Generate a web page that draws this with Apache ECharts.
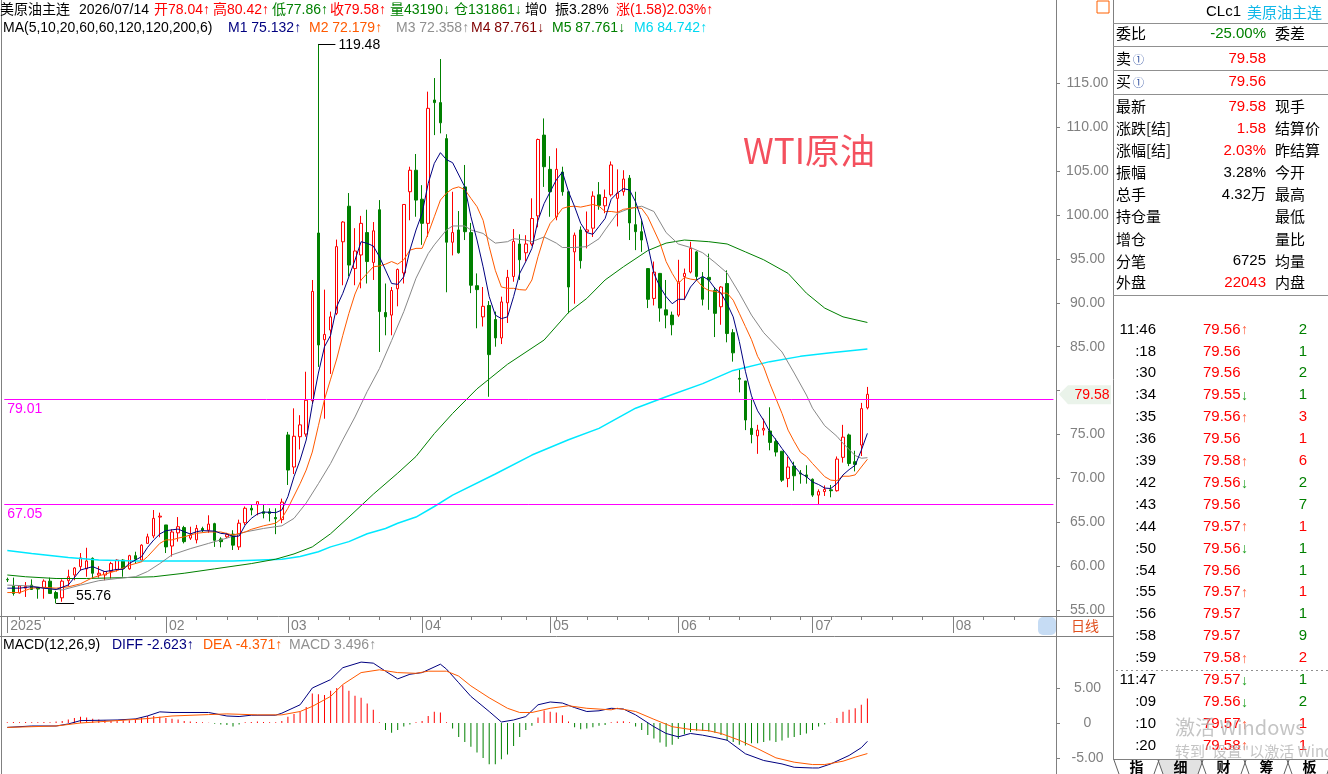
<!DOCTYPE html>
<html>
<head>
<meta charset="utf-8">
<title>WTI原油 日线</title>
<script src="https://cdn.jsdelivr.net/npm/echarts@6.0.0/dist/echarts.min.js"></script>
<style>
  html, body { margin: 0; padding: 0; background: #fff; }
  #chart { width: 1328px; height: 774px; }
</style>
</head>
<body>
<div id="chart"></div>
<script>
// ---- data ----
// daily candles: [open, close, low, high]
const candles = [
  [58.5,58.45,58.2,58.7],[57.75,56.9,56.65,58.7],[56.95,57.75,56.9,57.85],[57.5,57.7,56.5,58.2],[57.85,57.35,57.3,58.5],
  [57.6,57.4,56.3,57.6],[57.55,58.3,56.3,58.5],[58.3,56.9,56.9,58.7],[57.0,56.35,55.76,57.2],[56.4,58.3,55.95,58.5],
  [58.35,58.8,57.7,59.6],[59.0,59.8,58.4,59.9],[59.95,60.95,59.5,61.5],[59.7,60.6,58.8,62.1],[60.9,59.2,58.6,61.0],
  [59.0,59.2,58.7,60.0],[59.0,59.4,58.4,59.4],[59.4,60.3,58.6,60.5],[59.6,60.7,59.4,60.8],[60.7,59.75,58.8,60.8],
  [59.7,61.2,59.6,61.3],[61.2,60.8,60.3,61.65],[60.7,62.4,60.5,62.5],[62.6,63.35,62.6,63.7],[63.45,65.45,63.2,66.4],
  [65.6,65.7,63.3,66.1],[64.7,62.2,61.5,64.7],[62.3,63.9,61.1,64.2],[63.8,64.5,62.8,65.6],[64.4,62.8,62.6,64.6],
  [63.2,63.55,63.0,64.5],[63.0,64.3,62.6,64.7],[64.3,64.1,63.9,64.5],[64.1,64.8,63.8,65.8],[64.85,62.95,62.2,64.95],
  [63.1,62.8,62.15,63.3],[63.35,63.6,63.2,63.8],[63.65,62.4,61.85,64.1],[62.2,64.9,61.85,65.3],[64.95,66.6,64.7,66.8],
  [66.6,66.4,65.8,66.97],[67.0,67.35,65.8,67.35],[66.2,66.0,65.45,67.0],[66.2,66.0,65.1,66.6],[65.55,65.4,63.65,66.6],
  [65.3,67.3,64.9,67.7],[74.95,70.95,69.25,75.3],[71.3,74.8,70.5,77.98],[74.75,76.1,73.3,77.2],[75.05,78.9,74.75,82.15],
  [78.85,91.3,78.5,92.6],[97.95,85.2,82.7,119.48],[85.8,86.4,76.8,91.5],[86.9,88.4,81.9,89.0],[88.8,96.4,88.6,97.2],
  [96.95,99.2,92.0,99.3],[101.0,94.3,93.0,102.5],[93.9,95.9,92.0,98.5],[95.45,99.05,91.65,99.9],[98.0,94.7,92.2,100.6],
  [94.6,98.2,92.6,99.2],[100.6,89.0,84.4,101.7],[88.9,88.4,86.3,92.2],[88.6,91.4,86.3,91.8],[91.6,93.8,89.6,93.9],
  [93.4,101.2,92.2,101.25],[102.65,105.1,99.4,105.5],[105.1,101.7,99.8,106.95],[101.8,99.05,96.6,103.4],[99.05,112.15,97.5,114.05],
  [113.1,112.8,109.1,115.6],[112.8,110.5,109.3,117.77],[108.7,96.9,91.2,109.2],[96.9,98.0,95.4,102.65],[98.3,95.7,95.6,100.45],
  [103.2,98.1,97.15,105.7],[98.0,92.0,91.1,99.1],[91.95,91.5,87.1,93.35],[88.4,89.6,87.3,91.8],[89.7,84.1,79.3,90.2],
  [88.1,86.0,85.0,89.0],[86.0,90.1,85.3,90.7],[90.0,92.9,87.7,93.75],[93.0,97.0,92.4,98.4],[96.7,94.9,92.6,97.8],
  [95.7,96.7,94.7,97.7],[96.7,99.6,96.5,101.9],[99.9,108.6,98.6,108.7],[109.1,105.5,103.2,111.0],[105.2,102.65,99.8,106.7],
  [99.8,105.2,99.4,107.6],[104.9,102.65,102.2,105.5],[102.65,91.8,88.8,102.7],[95.8,97.7,89.9,98.0],[98.3,94.8,93.9,98.7],
  [98.1,98.3,96.2,100.4],[98.5,102.15,97.5,102.7],[102.3,101.1,100.6,103.75],[101.05,102.0,100.2,102.9],[102.3,105.7,102.1,106.1],
  [101.9,102.5,98.7,105.2],[102.65,104.1,102.2,105.1],[104.2,99.1,97.15,104.55],[98.9,98.1,96.0,102.65],[98.1,97.15,95.8,99.4],
  [93.9,90.4,89.4,93.95],[90.5,93.5,89.7,94.7],[93.35,89.4,87.85,93.4],[89.2,88.6,87.1,92.6],[88.6,87.5,86.3,89.0],
  [88.6,92.4,88.4,94.9],[93.0,93.35,90.3,93.9],[93.5,96.2,93.35,96.95],[95.8,93.0,92.6,95.9],[92.9,90.4,89.7,93.5],
  [92.9,92.6,89.2,95.6],[91.4,88.8,86.1,91.8],[89.55,91.8,87.5,91.9],[92.2,86.5,85.5,93.7],[86.6,84.3,83.3,87.0],
  [81.4,81.3,79.8,82.4],[81.1,76.65,75.5,81.1],[75.7,75.0,74.0,79.1],[74.85,75.5,72.8,76.1],[75.5,75.7,74.9,76.8],
  [75.4,74.1,73.2,78.1],[74.2,73.0,72.5,74.55],[73.1,69.8,69.6,73.1],[70.0,71.3,69.0,72.5],[71.4,70.3,68.6,71.9],
  [70.6,70.5,69.4,70.95],[70.4,70.2,69.4,71.5],[69.9,68.1,67.9,70.0],[68.1,68.5,67.05,68.75],[68.5,68.75,68.0,69.2],
  [68.7,68.6,67.85,69.25],[68.6,72.2,68.5,72.5],[72.4,74.7,71.8,76.1],[74.95,71.7,71.4,75.1],[71.9,71.6,70.8,73.15],
  [73.8,77.95,72.55,78.6],[78.04,79.58,77.86,80.42]
];

// moving averages as [candle index, value]
const ma5 = [
  [0,57.5],[2,57.5],[4,57.67],[6,57.5],[8,57.35],[10,57.86],[12,59.57],[14,59.95],[16,59.38],[18,59.64],[19,59.64],
  [20,60.32],[21,60.7],[22,61.08],[23,62.15],[24,62.98],[25,63.67],[26,64.05],[28,64.23],[29,63.93],[30,63.67],
  [31,63.93],[32,64.05],[34,64.0],[35,63.74],[36,63.67],[37,63.36],[38,63.44],[39,64.69],[40,65.45],[41,65.94],
  [42,66.17],[44,66.1],[45,66.4],[46,67.92],[47,70.2],[48,72.09],[49,74.37],[50,78.4],[51,82.0],[52,85.0],[53,86.3],
  [54,89.56],[55,91.08],[56,92.97],[57,94.87],[58,96.96],[59,96.77],[60,96.47],[61,95.25],[62,93.73],[63,92.2],
  [64,92.1],[65,92.97],[66,96.0],[67,98.29],[68,100.19],[69,103.6],[70,105.88],[71,107.1],[72,106.3],[73,105.96],
  [75,103.2],[76,99.8],[77,97.15],[78,94.1],[79,90.7],[80,88.6],[81,88.2],[82,88.4],[83,90.7],[84,93.35],[85,94.7],
  [86,96.2],[87,99.4],[88,101.3],[89,102.65],[90,104.0],[91,104.9],[92,102.65],[93,100.95],[94,99.05],[95,98.0],
  [96,97.8],[97,98.7],[98,99.6],[99,101.8],[100,102.5],[101,103.0],[102,102.85],[103,101.5],[104,99.4],[105,96.6],
  [106,93.35],[107,91.8],[108,90.7],[109,89.9],[110,90.4],[111,90.4],[112,91.8],[113,92.6],[114,93.0],[115,92.6],
  [116,91.65],[117,91.1],[118,89.9],[119,88.4],[120,85.6],[121,82.2],[122,79.4],[123,77.7],[124,76.6],[125,75.3],
  [126,74.4],[127,73.4],[128,72.5],[129,71.4],[130,70.6],[131,70.2],[132,69.6],[133,69.3],[134,68.9],[135,68.85],
  [136,69.4],[137,70.4],[138,71.0],[139,71.5],[140,73.2],[141,75.13]
];
const ma10 = [
  [0,57.0],[2,57.0],[4,57.5],[6,57.6],[8,57.5],[10,57.65],[12,58.0],[14,58.7],[16,59.1],[18,59.5],[20,60.1],
  [22,60.5],[23,61.1],[24,61.85],[25,62.6],[26,63.0],[27,63.0],[28,63.2],[29,63.35],[31,63.75],[33,63.9],[35,63.9],
  [37,63.55],[39,63.9],[40,64.2],[42,64.6],[44,64.9],[45,65.45],[46,66.6],[48,69.4],[49,70.95],[50,73.0],[51,76.0],
  [52,79.0],[53,81.3],[54,83.6],[55,86.3],[56,88.8],[57,91.0],[58,92.6],[59,93.35],[60,94.1],[61,94.2],[62,94.4],
  [63,94.7],[64,94.4],[65,94.9],[66,96.0],[67,96.2],[68,96.2],[69,97.9],[70,99.8],[71,101.7],[72,102.5],[73,103.0],
  [74,103.2],[75,102.9],[76,101.9],[77,100.95],[78,99.4],[79,96.4],[80,93.7],[81,91.8],[82,91.65],[83,91.65],
  [84,91.5],[85,91.45],[86,92.6],[87,95.25],[88,97.5],[89,99.05],[90,99.8],[91,100.75],[92,100.95],[93,101.0],
  [94,100.9],[95,101.05],[96,101.2],[97,101.0],[98,100.4],[99,100.4],[100,100.3],[101,100.65],[102,100.75],
  [103,100.85],[104,100.75],[105,99.8],[106,98.3],[107,96.8],[108,94.7],[109,93.35],[110,92.2],[111,92.9],
  [112,92.7],[113,92.6],[114,91.8],[115,91.4],[116,91.3],[117,91.1],[118,91.1],[119,90.3],[120,88.8],[121,87.3],
  [122,85.8],[123,83.9],[124,82.7],[125,80.8],[126,79.1],[127,77.4],[128,75.5],[129,74.2],[130,73.0],[131,72.5],
  [132,71.7],[133,70.95],[134,70.2],[135,69.8],[136,69.75],[137,70.25],[138,70.25],[139,70.4],[140,71.3],[141,72.18]
];
const ma20 = [
  [0,57.85],[4,57.75],[6,57.5],[9,57.3],[12,57.85],[15,58.35],[18,58.6],[21,58.8],[23,59.4],[25,60.3],[27,61.3],
  [30,62.0],[33,62.6],[36,63.2],[39,63.9],[42,64.3],[45,64.6],[47,65.45],[49,67.2],[51,69.4],[53,71.7],[55,74.4],
  [57,77.0],[59,79.9],[61,82.5],[63,85.7],[65,89.0],[67,92.8],[69,95.6],[70,96.6],[72,98.3],[73,98.75],[75,98.75],
  [76,98.3],[78,97.9],[79,97.3],[80,96.8],[82,96.96],[83,97.3],[85,97.15],[86,96.96],[88,97.5],[90,96.8],[91,96.3],
  [93,96.3],[95,96.4],[97,97.3],[98,98.3],[100,100.2],[102,100.75],[104,101.0],[106,100.4],[108,98.0],[110,96.7],
  [112,96.3],[114,95.7],[116,94.6],[118,93.4],[120,91.1],[122,88.6],[124,86.6],[127,84.4],[129,82.0],[131,79.5],
  [132,78.0],[134,76.0],[136,74.8],[137,74.0],[139,72.6],[140,72.3],[141,72.36]
];
const ma60 = [
  [0,59.0],[3,58.8],[8,58.6],[13,58.6],[19,58.7],[24,58.8],[29,59.2],[34,59.7],[40,60.3],[44,60.8],[47,61.4],
  [50,62.2],[53,63.7],[56,65.6],[60,68.2],[64,70.6],[67,72.5],[70,75.1],[73,77.4],[77,80.2],[82,83.0],[88,85.76],
  [92,88.9],[95,90.5],[98,92.6],[101,94.1],[105,95.95],[108,96.8],[111,97.15],[115,96.96],[118,96.7],[121,95.8],
  [124,94.9],[128,93.35],[131,91.1],[134,89.4],[137,88.4],[141,87.76]
];
const ma120 = [
  [0,61.8],[4,61.45],[10,61.0],[15,60.7],[21,60.6],[32,60.6],[37,60.6],[45,60.8],[48,61.1],[51,61.65],[53,62.2],
  [56,62.8],[59,63.7],[62,64.3],[64,64.9],[67,65.6],[70,66.8],[73,68.1],[80,70.5],[86,72.66],[92,74.4],[97,75.7],
  [103,78.0],[108,79.3],[114,80.8],[119,82.3],[125,83.3],[130,83.9],[135,84.3],[141,84.74]
];

// MACD(12,26,9)
const macdBars = [
  0.1,0.15,0.1,0.15,0.1,0.1,0.15,0.1,0.2,
  0.3,0.5,0.7,0.9,0.8,0.6,0.5,0.4,0.3,0.3,0.35,0.4,
  0.6,0.8,1.0,1.0,0.9,0.7,0.6,0.5,0.3,0.2,0.15,0.1,0.05,
  -0.1,-0.2,-0.3,-0.5,-0.2,0.1,0.15,0.2,0.15,0.1,0.1,0.3,
  0.9,1.3,1.6,2.3,4.2,4.1,4.0,4.6,5.0,5.4,4.6,3.9,3.6,2.8,1.9,0.1,
  -1.0,-1.4,-1.0,-0.5,-0.2,0.1,0.3,1.0,1.6,1.5,0.1,
  -0.8,-2.0,-2.7,-3.4,-4.2,-5.0,-5.9,-5.9,-5.2,-4.5,-3.3,-2.0,-1.0,-0.4,
  0.8,1.8,1.6,1.5,1.1,0.2,
  -0.6,-0.9,-0.8,-0.6,-0.4,-0.3,
  0.1,0.2,0.25,0.1,
  -0.5,-1.0,-1.7,-2.2,-2.8,-3.4,-3.1,-2.3,-1.6,-1.3,-1.1,-1.1,-1.2,-1.4,-1.7,-2.5,-2.7,-3.1,-3.2,-2.9,-2.9,
  -2.7,-2.5,-2.7,-2.5,-2.1,-2.0,-1.7,-1.5,-1.0,-0.5,-0.2,0.05,
  0.7,1.6,1.9,2.1,2.6,3.5
];
const diffLine = [
  [0,-0.63],[4,-0.43],[8,-0.43],[10,-0.14],[12,0.34],[18,0.43],[21,0.58],[23,1.01],[25,1.59],[27,1.5],[33,1.5],
  [36,1.0],[38,0.92],[40,1.11],[44,1.11],[45,1.4],[48,2.6],[50,5.0],[53,6.2],[55,7.9],[58,8.7],[60,8.55],[62,7.4],
  [64,6.3],[66,6.96],[68,7.2],[71,8.4],[72,7.7],[74,5.75],[76,3.8],[79,1.64],[81,0.14],[83,0.43],[85,0.92],[87,2.6],
  [89,3.0],[91,2.85],[93,2.2],[95,1.64],[97,1.74],[99,2.1],[101,2.0],[103,1.16],[106,-0.53],[108,-1.5],[110,-1.98],
  [112,-1.5],[114,-1.74],[116,-2.08],[118,-2.46],[121,-4.4],[124,-5.36],[127,-5.85],[129,-6.33],[132,-6.43],
  [133,-6.43],[135,-5.85],[138,-4.64],[140,-3.53],[141,-2.62]
];
const deaLine = [
  [0,-0.63],[8,-0.43],[12,0.0],[18,0.34],[23,0.63],[27,1.0],[33,1.2],[36,1.3],[41,1.16],[45,1.16],[48,1.64],
  [50,2.37],[53,3.8],[55,5.5],[58,7.2],[61,7.6],[64,7.2],[67,7.1],[69,7.4],[72,7.4],[74,6.7],[76,5.3],[79,3.6],
  [82,2.1],[84,1.5],[86,1.5],[89,2.1],[92,2.46],[95,2.1],[99,1.88],[100,2.1],[103,1.64],[106,0.53],[109,-0.53],
  [112,-0.92],[115,-1.11],[117,-1.5],[120,-2.46],[123,-3.67],[126,-4.98],[129,-5.6],[132,-5.94],[134,-5.94],
  [137,-5.46],[139,-4.88],[141,-4.37]
];

// axes
const slotCount = 172;
const monthIdx = [0, 26, 46, 68, 89, 110, 132, 155];
const monthText = ['2025', '02', '03', '04', '05', '06', '07', '08'];
const weekIdx = [2,6,11,16,21,31,36,41,51,56,61,66,71,76,81,85,90,95,100,105,110,115,120,125,130,135,140,145,150,155,160,165,170];
const priceTicks = [55,60,65,70,75,80,85,90,95,100,105,110,115];
const priceLabels = [55,60,65,70,75,85,90,95,100,105,110,115]; // 80.00 sits under the last-price tag
const macdTicks = [-5, 0, 5];
const levelLines = [79.01, 67.05];
const lastPrice = 79.58;

// header texts
const headItems = [
  ['美原油主连', '#000000'], ['2026/07/14', '#000000'], ['开78.04↑', '#ff0000'], ['高80.42↑', '#ff0000'],
  ['低77.86↑', '#008000'], ['收79.58↑', '#ff0000'], ['量43190↓', '#008000'], ['仓131861↓', '#008000'],
  ['增0', '#000000'], ['振3.28%', '#000000'], ['涨(1.58)2.03%↑', '#ff0000']
];
const maItems = [
  ['MA(5,10,20,60,60,120,120,200,6)', '#000000'], ['M1 75.132↑', '#000080'], ['M2 72.179↑', '#ff5a00'],
  ['M3 72.358↑', '#909090'], ['M4 87.761↓', '#800000'], ['M5 87.761↓', '#008000'], ['M6 84.742↑', '#00d8f0']
];
const macdItems = [
  ['MACD(12,26,9)', '#000000'], ['DIFF -2.623↑', '#000080'], ['DEA -4.371↑', '#ff5a00'], ['MACD 3.496↑', '#909090']
];

// quote panel
const infoLabels = ['委比', '卖', '买', '最新', '涨跌[结]', '涨幅[结]', '振幅', '总手', '持仓量', '增仓', '分笔', '外盘'];
const infoValues = ['-25.00%', '79.58', '79.56', '79.58', '1.58', '2.03%', '3.28%', '4.32万', '', '', '6725', '22043'];
const infoRight = ['委差', '', '', '现手', '结算价', '昨结算', '今开', '最高', '最低', '量比', '均量', '内盘'];
const infoSign = [-1, 1, 1, 1, 1, 1, 0, 0, 0, 0, 0, 1];

// time and sales
const tickTimes = ['11:46',':18',':30',':34',':35',':36',':39',':42',':43',':44',':50',':54',':55',':56',':58',':59','11:47',':09',':10',':20'];
const tickPrices = ['79.56','79.56','79.56','79.55','79.56','79.56','79.58','79.56','79.56','79.57','79.56','79.56','79.57','79.57','79.57','79.58','79.57','79.56','79.57','79.58'];
const tickArrows = ['↑','','','↓','↑','','↑','↓','','↑','↓','','↑','','','↑','↓','↓','↑','↑'];
const tickVols = [2,1,2,1,3,1,6,2,7,1,1,1,1,1,9,2,1,2,1,1];
const tickBuy = [0,0,0,0,1,1,1,0,0,1,0,0,1,0,0,1,0,0,1,1];

const tabs = ['指', '细', '财', '筹', '板'];

// ---- chart ----
const FONT = '"Liberation Sans", Arial, "Noto Sans CJK SC", sans-serif';
const CJK = '"Noto Sans CJK SC", "Liberation Sans", sans-serif';
const GRAY = '#808080';
const RED = '#ff0000', GREEN = '#008000';

const slots = Array.from({ length: slotCount }, (_, i) => String(i));
const gridLeft = 4.25, gridRight = 274.55;

const chart = echarts.init(document.getElementById('chart'), null, { renderer: 'canvas' });

function maSeries(name, data, color, width) {
  return {
    name, type: 'line', data, xAxisIndex: 0, yAxisIndex: 0,
    showSymbol: false, symbol: 'none', smooth: false, silent: true,
    lineStyle: { color, width: width || 1 }, z: 3
  };
}

const option = {
  animation: false,
  backgroundColor: '#ffffff',
  textStyle: { fontFamily: FONT },
  grid: [
    { left: gridLeft, right: gridRight, top: 38, bottom: 158 },
    { left: gridLeft, right: gridRight, top: 636, bottom: 0 }
  ],
  xAxis: [
    {
      type: 'category', gridIndex: 0, data: slots, boundaryGap: true, position: 'bottom',
      axisLine: { show: false },
      axisTick: { show: true, alignWithLabel: true, length: 17, interval: (i) => monthIdx.includes(i), lineStyle: { color: GRAY } },
      axisLabel: {
        show: true, interval: (i) => monthIdx.includes(i),
        formatter: (v, i) => monthText[monthIdx.indexOf(i)] || '',
        align: 'left', padding: [0, 0, 0, 3], margin: 3, color: GRAY, fontSize: 14, fontFamily: FONT
      },
      splitLine: { show: false }
    },
    {
      type: 'category', gridIndex: 0, data: slots, boundaryGap: true, position: 'bottom',
      axisLine: { show: false },
      axisTick: { show: true, alignWithLabel: true, length: 4, interval: (i) => weekIdx.includes(i), lineStyle: { color: GRAY } },
      axisLabel: { show: false }, splitLine: { show: false }
    },
    { type: 'category', gridIndex: 1, data: slots, boundaryGap: true, show: false }
  ],
  yAxis: [
    {
      type: 'value', gridIndex: 0, position: 'right', offset: 2.55, min: 54.33, max: 120.16, scale: true,
      axisLine: { show: true, lineStyle: { color: GRAY } },
      axisTick: { show: true, length: 4, customValues: priceTicks, lineStyle: { color: GRAY } },
      axisLabel: { customValues: priceLabels, formatter: (v) => v.toFixed(2), align: 'center', margin: 31.5, color: GRAY, fontSize: 14, fontFamily: FONT },
      splitLine: { show: false }
    },
    {
      type: 'value', gridIndex: 1, position: 'right', offset: 2.55, min: -7.29, max: 12.43,
      axisLine: { show: true, lineStyle: { color: GRAY } },
      axisTick: { show: true, length: 4, customValues: macdTicks, lineStyle: { color: GRAY } },
      axisLabel: { customValues: macdTicks, formatter: (v) => v === 0 ? '0' : v.toFixed(2), align: 'center', margin: 31.5, color: GRAY, fontSize: 14, fontFamily: FONT },
      splitLine: { show: false }
    }
  ],
  series: [
    {
      name: 'K', type: 'candlestick', data: candles, xAxisIndex: 0, yAxisIndex: 0, barWidth: 3,
      itemStyle: { color: '#ffffff', color0: GREEN, borderColor: RED, borderColor0: GREEN, borderWidth: 1 },
      z: 2,
      markLine: {
        silent: true, symbol: ['none', 'none'], animation: false,
        lineStyle: { color: '#ff00ff', width: 1, type: 'solid' },
        label: { position: 'insideStartBottom', color: '#ff00ff', fontSize: 14, fontFamily: FONT, distance: 3, formatter: (p) => p.value.toFixed(2) },
        data: levelLines.map((v) => ({ yAxis: v }))
      }
    },
    maSeries('MA120', ma120, '#00e8ff', 1.5),
    maSeries('MA60', ma60, '#008000', 1),
    maSeries('MA20', ma20, '#888888', 1),
    maSeries('MA10', ma10, '#ff5a00', 1),
    maSeries('MA5', ma5, '#000080', 1),
    {
      name: 'MACD', type: 'bar', data: macdBars, xAxisIndex: 2, yAxisIndex: 1, barWidth: 1, silent: true,
      itemStyle: { color: (p) => p.value >= 0 ? RED : GREEN }
    },
    {
      name: 'DIFF', type: 'line', data: diffLine, xAxisIndex: 2, yAxisIndex: 1, showSymbol: false, symbol: 'none', silent: true,
      lineStyle: { color: '#000080', width: 1 }
    },
    {
      name: 'DEA', type: 'line', data: deaLine, xAxisIndex: 2, yAxisIndex: 1, showSymbol: false, symbol: 'none', silent: true,
      lineStyle: { color: '#ff5a00', width: 1 }
    }
  ]
};

chart.setOption(option);

// ---- overlay texts and frame ----
function txt(x, y, s, color, size, align, font, weight, opacity) {
  const f = (weight ? weight + ' ' : '') + size + 'px ' + (font || FONT);
  return {
    type: 'text', x, y, silent: true, z: 100,
    style: {
      text: s, fill: color, font: f, opacity: opacity == null ? 1 : opacity,
      textAlign: align || 'left', textVerticalAlign: 'middle', align: align || 'left', verticalAlign: 'middle'
    }
  };
}
function seg(x1, y1, x2, y2, color, width, dash) {
  return { type: 'line', silent: true, z: 90, shape: { x1, y1, x2, y2 }, style: { stroke: color, lineWidth: width || 1, lineDash: dash || null } };
}

const g = [];

// frame lines
g.push(seg(1.5, 0, 1.5, 774, GRAY));
g.push(seg(0, 616.5, 1113, 616.5, GRAY));
g.push(seg(0, 636.5, 1113, 636.5, GRAY));
g.push(seg(1056.5, 0, 1056.5, 774, GRAY));
g.push(seg(1113.5, 0, 1113.5, 759, GRAY));

// header rows
const headX = [0, 79, 154, 213, 272, 330, 390, 454, 525, 555, 616];
headItems.forEach((it, k) => g.push(txt(headX[k], 10, it[0], it[1], 14)));
const maX = [3, 228, 309, 396, 471, 552, 634];
maItems.forEach((it, k) => g.push(txt(maX[k], 28, it[0], it[1], 14)));
const macdX = [3, 112, 203, 289];
macdItems.forEach((it, k) => g.push(txt(macdX[k], 645, it[0], it[1], 14)));

// big title
g.push(txt(743, 151, 'WTI原油', '#f4505e', 35, 'left', CJK));

// 日线 and the blue button
g.push({ type: 'rect', silent: true, z: 80, shape: { x: 1038, y: 617, width: 18, height: 18, r: 5 }, style: { fill: '#c6dcf4' } });
g.push(txt(1071, 626, '日线', '#e0501e', 14, 'left', CJK));

// max / min markers
let hiIdx = 0, loIdx = 0;
candles.forEach((c, i) => { if (c[3] > candles[hiIdx][3]) hiIdx = i; if (c[2] < candles[loIdx][2]) loIdx = i; });
const pHi = chart.convertToPixel({ seriesIndex: 0 }, [hiIdx, candles[hiIdx][3]]);
const pLo = chart.convertToPixel({ seriesIndex: 0 }, [loIdx, candles[loIdx][2]]);
g.push(seg(pHi[0], Math.round(pHi[1]) + 0.5, pHi[0] + 17, Math.round(pHi[1]) + 0.5, '#000000'));
g.push(txt(pHi[0] + 20, pHi[1] + 1, candles[hiIdx][3].toFixed(2), '#000000', 14));
g.push(seg(pLo[0], Math.round(pLo[1]) + 0.5, pLo[0] + 18, Math.round(pLo[1]) + 0.5, '#000000'));
g.push(txt(pLo[0] + 20, pLo[1] - 7, candles[loIdx][2].toFixed(2), '#000000', 14));

// last price tag on the axis
const yLast = chart.convertToPixel({ yAxisIndex: 0 }, lastPrice);
g.push({
  type: 'polygon', silent: true, z: 85,
  shape: { points: [[1059, yLast], [1068, yLast - 9], [1111, yLast - 9], [1111, yLast + 10], [1068, yLast + 10]] },
  style: { fill: '#eaf3ea' }
});
g.push(txt(1092, yLast + 1, lastPrice.toFixed(2), '#ff0000', 14, 'center'));

// quote panel
g.push({ type: 'rect', silent: true, z: 80, shape: { x: 1097, y: 1, width: 12, height: 12 }, style: { fill: 'none', stroke: '#ff6000', lineWidth: 1 } });
g.push(txt(1206, 12, 'CLc1', '#000000', 15));
g.push(txt(1247, 12, '美原油主连', '#10b8e8', 15, 'left', CJK));
[23.5, 46.5, 70.5, 94.5, 295.5].forEach((y) => g.push(seg(1113, y, 1328, y, '#909090')));
const infoY = [33.5, 58.5, 81.5, 106.5, 128.5, 150.5, 172.5, 194.5, 216.5, 239, 261, 282.5];
infoLabels.forEach((lab, k) => {
  g.push(txt(1116, infoY[k], lab, '#000000', 15, 'left', CJK));
  if (lab === '卖' || lab === '买') g.push(txt(1133, infoY[k] + 1, '①', '#3050a0', 11, 'left', CJK));
  if (infoValues[k]) {
    const col = infoSign[k] > 0 ? RED : (infoSign[k] < 0 ? GREEN : '#000000');
    g.push(txt(1266, infoY[k], infoValues[k], col, 15, 'right', FONT));
  }
  if (infoRight[k]) g.push(txt(1275, infoY[k], infoRight[k], '#000000', 15, 'left', CJK));
});

// time and sales list
tickTimes.forEach((t, k) => {
  const y = 329.5 + k * 21.9;
  g.push(txt(1156, y, t, '#000000', 15, 'right'));
  g.push(txt(1203, y, tickPrices[k], RED, 15));
  if (tickArrows[k]) g.push(txt(1241, y + 1, tickArrows[k], tickArrows[k] === '↑' ? '#ff6040' : '#20a020', 14));
  g.push(txt(1307, y, String(tickVols[k]), tickBuy[k] ? RED : GREEN, 15, 'right'));
});
g.push(seg(1116, 670.5, 1328, 670.5, '#909090', 1, [2, 3]));

// windows watermark
g.push(txt(1175, 727, '激活 Windows', '#b0b0b0', 20, 'left', CJK, null, 0.75));
g.push(txt(1175, 751, '转到"设置"以激活 Windows。', '#b0b0b0', 15, 'left', CJK, null, 0.75));

// tabs
g.push(seg(1113, 759.5, 1328, 759.5, GRAY));
g.push({ type: 'polygon', silent: true, z: 85, shape: { points: [[1158, 760], [1203, 760], [1198, 774], [1163, 774]] }, style: { fill: '#e2e2e2' } });
const tabLeft = [1114, 1158, 1201, 1244, 1287];
tabs.forEach((t, k) => {
  const a = tabLeft[k], b = a + 45;
  g.push(seg(a, 760, a + 5, 774, '#606060'));
  g.push(seg(b - 5, 774, b, 760, '#606060'));
  g.push(txt(a + 22.5, 767, t, '#000000', 14, 'center', CJK, 'bold'));
});

chart.setOption({ graphic: { elements: g } });
</script>
</body>
</html>
